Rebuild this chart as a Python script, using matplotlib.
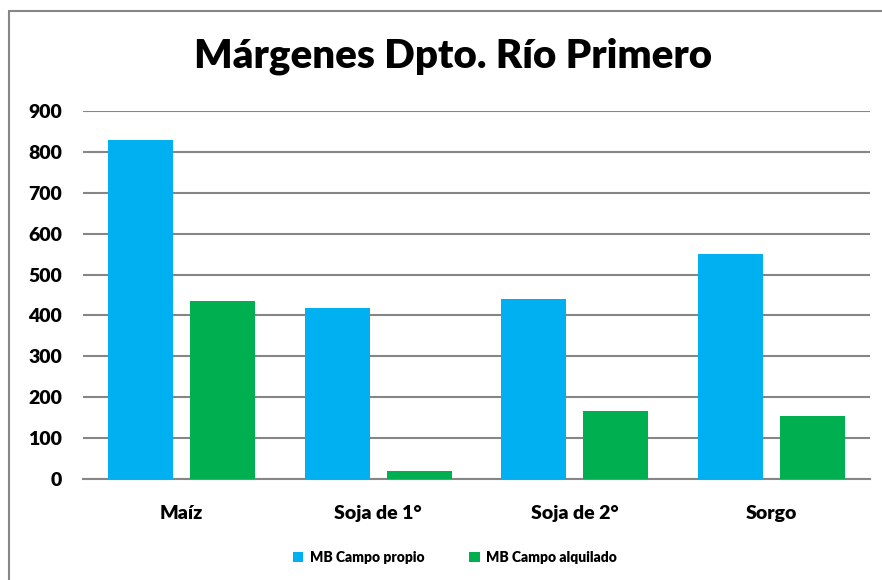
import numpy as np
import matplotlib.pyplot as plt
from matplotlib.patches import Rectangle

# Datos
cultivos = ["Maíz", "Soja de 1°", "Soja de 2°", "Sorgo"]
mb_propio = [829, 418, 440, 550]
mb_alquilado = [435, 20, 166, 154]

plt.rcParams['font.family'] = ['Lato', 'DejaVu Sans']

fig = plt.figure(figsize=(8.82, 5.8), dpi=100)
ax = fig.add_axes([83 / 882, 1 - 479 / 580, (870 - 83) / 882, (479 - 111) / 580])

x = np.arange(len(cultivos))
ax.bar(x - 0.208, mb_propio, 0.33, color='#00B0F0', label='MB Campo propio', zorder=3)
ax.bar(x + 0.208, mb_alquilado, 0.33, color='#00B050', label='MB Campo alquilado', zorder=3)

ax.set_xlim(-0.5, len(cultivos) - 0.5)
ax.set_ylim(0, 900)
ax.set_yticks(np.arange(0, 901, 100))
ax.set_xticks(x)
ax.set_xticklabels(cultivos, fontsize=14, fontweight='heavy')
for t in ax.get_yticklabels():
    t.set_fontsize(14)
    t.set_fontweight('heavy')
ax.tick_params(axis='y', length=0, pad=15)
ax.tick_params(axis='x', length=0, pad=19)

ax.grid(axis='y', color='#868686', linewidth=1.5, zorder=0)
for s in ['top', 'right', 'left']:
    ax.spines[s].set_visible(False)
ax.spines['bottom'].set_color('#868686')
ax.spines['bottom'].set_linewidth(1.5)

fig.text(453 / 882, 1 - 56 / 580, "Márgenes Dpto. Río Primero", ha='center', va='center',
         fontsize=29, fontweight='heavy')

fig.legend(loc='center', bbox_to_anchor=(455 / 882, 1 - 557 / 580), ncol=2, frameon=False,
           prop={'size': 10, 'weight': 'heavy'}, handlelength=0.75, handleheight=0.75,
           columnspacing=3.2, handletextpad=0.5)

# marco del gráfico
fig.patches.append(Rectangle((9 / 882, -0.1), 1.2, 1.1 - 11 / 580, transform=fig.transFigure,
                             fill=False, edgecolor='#868686', linewidth=1.5))

fig.savefig('out.png', dpi=100)
